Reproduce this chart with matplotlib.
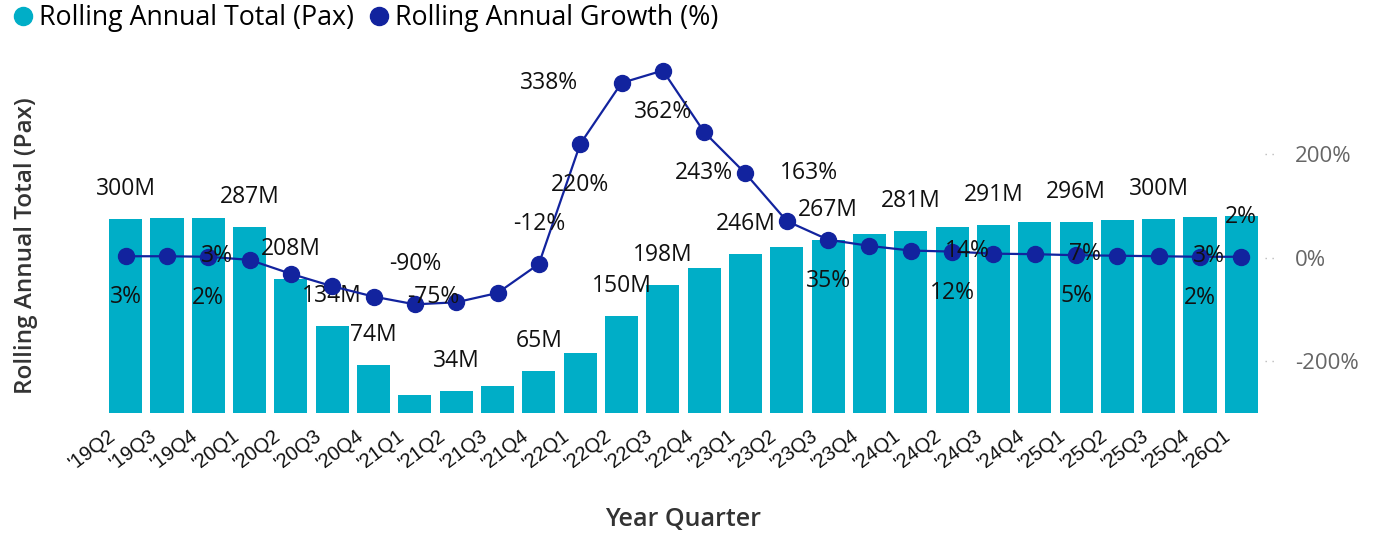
import matplotlib.pyplot as plt
import matplotlib.transforms as mtransforms

# rolling annual figures per quarter
quarters = ["'19Q2", "'19Q3", "'19Q4", "'20Q1", "'20Q2", "'20Q3", "'20Q4",
            "'21Q1", "'21Q2", "'21Q3", "'21Q4", "'22Q1", "'22Q2", "'22Q3",
            "'22Q4", "'23Q1", "'23Q2", "'23Q3", "'23Q4", "'24Q1", "'24Q2",
            "'24Q3", "'24Q4", "'25Q1", "'25Q2", "'25Q3", "'25Q4", "'26Q1"]
total_pax_m = [300, 301, 301, 287, 208, 134, 74, 28, 34, 42, 65, 93, 150, 198,
               224, 246, 257, 267, 277, 281, 287, 291, 295, 296, 299, 300, 303, 304]
growth_pct = [3, 3, 2, -4, -31, -55, -75, -90, -86, -68, -12, 220, 338, 362,
              243, 163, 71, 35, 23, 14, 12, 8, 7, 5, 4, 3, 2, 2]

# which points get a label (as in the source visual)
bar_labelled = [0, 3, 4, 5, 6, 8, 10, 12, 13, 15, 17, 19, 21, 23, 25]
growth_labelled = {0: 'below', 1: 'right', 2: 'below', 6: 'right', 7: 'above',
                   10: 'above', 11: 'below', 12: 'left', 13: 'below', 14: 'below',
                   15: 'right', 17: 'below', 19: 'right', 20: 'below', 22: 'right',
                   23: 'below', 25: 'right', 26: 'below', 27: 'above'}

BAR_COL = '#00AEC7'
LINE_COL = '#12239E'
FONT = 'Open Sans'

fig = plt.figure(figsize=(13.77, 5.33), dpi=100)
ax = fig.add_axes([105 / 1377, 120 / 533, 1157 / 1377, 373 / 533])
ax2 = ax.twinx()

x = list(range(len(quarters)))
ax.bar(x, total_pax_m, width=0.8, color=BAR_COL, zorder=2)
ax.set_xlim(-0.5, len(quarters) - 0.5)
ax.set_ylim(0, 577)

ax2.plot(x, growth_pct, color=LINE_COL, lw=1.6, marker='o', markersize=11.5, zorder=3)
ax2.set_ylim(-300, 421)
ax.set_zorder(1)
ax2.set_zorder(2)
ax2.patch.set_visible(False)

for a in (ax, ax2):
    for s in a.spines.values():
        s.set_visible(False)

ax.set_yticks([])
ax.set_xticks(x)
ax.set_xticklabels(quarters, rotation=37, ha='right', rotation_mode='anchor',
                   fontsize=14.5, family='Liberation Sans', color='#111111')
ax.tick_params(axis='x', length=0, pad=9)
shift = mtransforms.ScaledTranslation(-18 / 100, 0, fig.dpi_scale_trans)
for lab in ax.get_xticklabels():
    lab.set_transform(lab.get_transform() + shift)

ax2.set_yticks([-200, 0, 200])
ax2.set_yticklabels(['-200%', '0%', '200%'], fontsize=16, family=FONT, color='#666666')
ax2.tick_params(axis='y', length=0, pad=24)
for t in [-200, 0, 200]:
    ax2.plot([1.003, 1.013], [t, t], transform=ax2.get_yaxis_transform(),
             clip_on=False, color='#bbbbbb', lw=1, ls=(0, (1, 4)))

ax.set_xlabel('Year Quarter', fontsize=18, family=FONT, weight='semibold',
              color='#333333')
ax.xaxis.set_label_coords(0.5, -0.251)
ax.set_ylabel('Rolling Annual Total (Pax)', fontsize=17.5, family=FONT,
              weight='semibold', color='#333333')
ax.yaxis.set_label_coords(-0.058, 0.45)

for i in bar_labelled:
    ax.annotate(f'{total_pax_m[i]}M', (i, total_pax_m[i]), xytext=(0, 30),
                textcoords='offset pixels', ha='center', va='center',
                fontsize=16.5, family=FONT, color='#111111', zorder=10)

offsets = {'below': ((0, -41), 'center'), 'above': ((0, 40), 'center'),
           'right': ((34, 0), 'left'), 'left': ((-43, 0), 'right')}
for i, pos in growth_labelled.items():
    off, ha = offsets[pos]
    ax2.annotate(f'{growth_pct[i]}%', (i, growth_pct[i]), xytext=off,
                 textcoords='offset pixels', ha=ha, va='center',
                 fontsize=16.5, family=FONT, color='#111111', zorder=10)

h1 = plt.Line2D([], [], ls='', marker='o', markersize=13, color=BAR_COL)
h2 = plt.Line2D([], [], ls='', marker='o', markersize=13, color=LINE_COL)
fig.legend([h1, h2], ['Rolling Annual Total (Pax)', 'Rolling Annual Growth (%)'],
           loc='upper left', bbox_to_anchor=(0.007, 0.9925), ncol=2, frameon=False,
           borderpad=0, borderaxespad=0, handlelength=1.0, handletextpad=0.1,
           columnspacing=0.43, prop={'family': FONT, 'size': 19.3})

fig.savefig('out.png', dpi=100)
